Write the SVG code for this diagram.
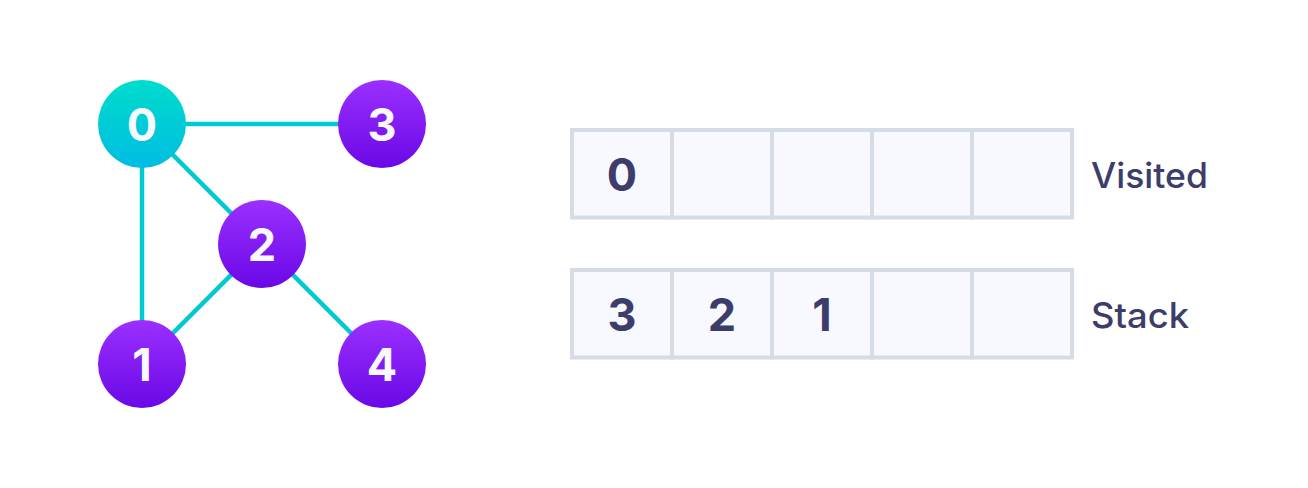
<svg xmlns="http://www.w3.org/2000/svg" width="1308" height="488" viewBox="0 0 1308 488">
<defs>
<linearGradient id="gTeal" x1="0" y1="0" x2="0" y2="1">
<stop offset="0" stop-color="#00dccc"/>
<stop offset="1" stop-color="#00bce2"/>
</linearGradient>
<linearGradient id="gPurple" x1="0" y1="0" x2="0" y2="1">
<stop offset="0" stop-color="#9b30ff"/>
<stop offset="1" stop-color="#6a08e6"/>
</linearGradient>
<style>
.edge{stroke:#00c9d2;stroke-width:4.5;fill:none}
.nlabel{font-family:Inter,"Noto Sans","Liberation Sans",sans-serif;font-weight:bold;font-size:45px;fill:#f8f8ff;text-anchor:middle}
.cell{fill:#f8f9fe;stroke:#d6dce6;stroke-width:4}
.clabel{font-family:Inter,"Noto Sans","Liberation Sans",sans-serif;font-weight:bold;font-size:45px;fill:#3d3d6b;text-anchor:middle}
.tlabel{font-family:Inter,"Noto Sans","Liberation Sans",sans-serif;font-weight:500;font-size:35px;fill:#3d3d6b}
</style>
</defs>
<rect width="1308" height="488" fill="#ffffff"/>
<g id="edges">
<line class="edge" x1="142" y1="124" x2="382" y2="124"/>
<line class="edge" x1="142" y1="124" x2="142" y2="364"/>
<line class="edge" x1="142" y1="124" x2="262" y2="244"/>
<line class="edge" x1="262" y1="244" x2="142" y2="364"/>
<line class="edge" x1="262" y1="244" x2="382" y2="364"/>
</g>
<g id="node0"><circle cx="142" cy="124" r="44" fill="url(#gTeal)"/><text class="nlabel" x="142" y="141">0</text></g>
<g id="node3"><circle cx="382" cy="124" r="44" fill="url(#gPurple)"/><text class="nlabel" x="382" y="141">3</text></g>
<g id="node2"><circle cx="262" cy="244" r="44" fill="url(#gPurple)"/><text class="nlabel" x="262" y="261">2</text></g>
<g id="node1"><circle cx="142" cy="364" r="44" fill="url(#gPurple)"/><text class="nlabel" x="142" y="381">1</text></g>
<g id="node4"><circle cx="382" cy="364" r="44" fill="url(#gPurple)"/><text class="nlabel" x="382" y="381">4</text></g>
<g id="visited">
<rect class="cell" x="572" y="130" width="100" height="87.5"/>
<rect class="cell" x="672" y="130" width="100" height="87.5"/>
<rect class="cell" x="772" y="130" width="100" height="87.5"/>
<rect class="cell" x="872" y="130" width="100" height="87.5"/>
<rect class="cell" x="972" y="130" width="100" height="87.5"/>
<text class="clabel" x="622" y="191">0</text>
<text class="tlabel" x="1091" y="188" textLength="117" lengthAdjust="spacingAndGlyphs">Visited</text>
</g>
<g id="stack">
<rect class="cell" x="572" y="270" width="100" height="87.5"/>
<rect class="cell" x="672" y="270" width="100" height="87.5"/>
<rect class="cell" x="772" y="270" width="100" height="87.5"/>
<rect class="cell" x="872" y="270" width="100" height="87.5"/>
<rect class="cell" x="972" y="270" width="100" height="87.5"/>
<text class="clabel" x="622" y="331">3</text>
<text class="clabel" x="722" y="331">2</text>
<text class="clabel" x="822" y="331">1</text>
<text class="tlabel" x="1091" y="328" textLength="98" lengthAdjust="spacingAndGlyphs">Stack</text>
</g>
</svg>
